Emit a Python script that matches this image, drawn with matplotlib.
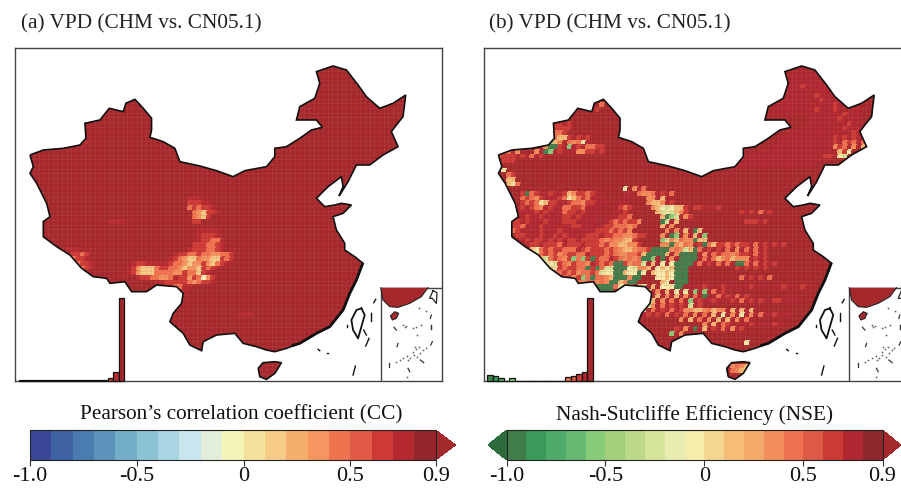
import numpy as np
import matplotlib
matplotlib.use("Agg")
import matplotlib.pyplot as plt
from matplotlib.colors import ListedColormap, BoundaryNorm
from matplotlib.cm import ScalarMappable
from matplotlib.patches import Polygon, Rectangle, PathPatch
from matplotlib.path import Path

W, H = 901, 488
plt.rcParams['font.family'] = ['Liberation Serif', 'DejaVu Serif']

bounds = np.round(np.arange(-1.0, 0.95, 0.1), 1)
cc_colors = ['#3a4796', '#3f62a3', '#4a7cb0', '#5b93ba', '#72aec8', '#8bc2d4', '#a9d6e2', '#c9e6ee', '#e2eed9', '#f5f5b8',
             '#f5e09c', '#f6cb85', '#f6ae6d', '#f5955f', '#f07350', '#e05a45', '#cd3a36', '#b52a30', '#93272d']
nse_colors = ['#3f7d4a', '#3a9a5a', '#4eab69', '#66b970', '#88cb78', '#a3d07c', '#bcd98a', '#d5e59a', '#e8ecb0', '#f6ecac',
              '#f5d68e', '#f5bd78', '#f4a86a', '#f28e5a', '#ee7150', '#dd5a46', '#cb3a35', '#ae2731', '#8f282e']
map_top_color = '#a5282d'
tick_vals = [-1.0, -0.5, 0, 0.5, 0.9]
tick_labels = ['-1.0', '-0.5', '0', '0.5', '0.9']

# histogram bars, one per colour bin
hist_cc = [1, 1, 1, 1, 1, 1, 1, 1, 1, 1, 1, 1, 1, 2, 2, 3, 8, 25, 247]
hist_nse = [17, 13, 7, 0, 8, 0, 0, 0, 0, 0, 0, 0, 0, 0, 12, 15, 20, 25, 247]

# China outline, measured on a 3x copy of panel (a)
china_x = [90, 130, 190, 240, 258, 255, 300, 328, 370, 378, 405, 430, 455, 455, 450, 490, 525, 540, 600, 650, 700, 735, 800,
           825, 825, 860, 900, 935, 968, 950, 925, 890, 900, 945, 960, 950, 1000, 1040, 1075, 1100, 1140, 1180, 1218, 1210,
           1190, 1175, 1195, 1150, 1110, 1070, 1045, 1018, 1030, 1025, 985, 950, 975, 1005, 1025, 1055, 1030, 1000, 1010,
           1035, 1035, 1065, 1090, 1070, 1050, 1030, 990, 950, 900, 860, 825, 800, 770, 730, 705, 650, 610, 605, 570, 550,
           510, 520, 545, 550, 530, 470, 440, 395, 375, 330, 320, 280, 245, 210, 170, 130, 130, 150, 140, 110, 90, 100]
china_y = [345, 330, 325, 315, 295, 250, 240, 205, 215, 190, 178, 205, 235, 270, 292, 305, 325, 365, 378, 392, 410, 392, 380,
           350, 325, 320, 295, 270, 262, 240, 240, 240, 200, 175, 130, 95, 78, 90, 135, 170, 205, 190, 165, 230,
           255, 275, 320, 345, 375, 375, 425, 468, 440, 410, 440, 475, 500, 495, 490, 495, 520, 530, 570,
           610, 630, 650, 670, 720, 760, 810, 860, 880, 910, 925, 935, 930, 920, 910, 880, 885, 905, 932, 915, 880,
           845, 820, 790, 760, 740, 735, 755, 755, 725, 730, 715, 710, 685, 645, 620, 590, 545, 530, 490, 430, 400, 380]
coast_x = [1088, 1070, 1050, 1030, 990, 950, 900, 880]
coast_y = [672, 720, 760, 810, 860, 880, 910, 916]
hainan_x = [775, 790, 825, 845, 825, 800, 780]
hainan_y = [985, 968, 965, 968, 1000, 1018, 1010]
taiwan_x = [1085, 1095, 1085, 1075, 1060, 1055, 1070, 1085]
taiwan_y = [805, 825, 860, 895, 870, 840, 810, 805]
dash_x0 = [1115, 1128, 1108, 1067, 955, 982, 1042, 1092]
dash_y0 = [820, 778, 895, 978, 928, 940, 855, 870]
dash_x1 = [1115, 1122, 1098, 1060, 960, 985, 1042, 1100]
dash_y1 = [842, 788, 918, 1005, 932, 940, 862, 885]

# south china sea inset
box_x = [1143, 1327]
box_y = [743, 1022]
inset_x = [1143, 1285, 1265, 1230, 1195, 1170, 1150]
inset_y = [743, 743, 770, 790, 802, 800, 780]
inset_hainan_x = [1172, 1185, 1197, 1190, 1178]
inset_hainan_y = [828, 815, 820, 835, 840]
inset_taiwan_x = [1300, 1312, 1310, 1298, 1290, 1300]
inset_taiwan_y = [752, 758, 790, 775, 775, 752]
inset_dash_x0 = [1183, 1295, 1295, 1195, 1298, 1168, 1262, 1225, 1295]
inset_dash_y0 = [862, 825, 855, 910, 905, 968, 960, 985, 855]
inset_dash_x1 = [1190, 1292, 1295, 1192, 1293, 1168, 1272, 1230, 1295]
inset_dash_y1 = [870, 835, 867, 920, 915, 980, 968, 995, 867]
isle_x = [1210, 1215, 1220, 1240, 1250, 1252, 1265, 1190, 1200, 1210, 1222, 1232, 1242, 1252, 1262, 1270, 1278, 1245, 1250,
          1258, 1240, 1225, 1222, 1258, 1280]
isle_y = [855, 862, 858, 865, 860, 885, 855, 965, 960, 955, 948, 955, 945, 950, 940, 930, 925, 920, 928, 922, 935, 960, 1012, 803, 812]

# grid levels, the characters in the rows below index this
levels = [-0.95, -0.55, -0.25, -0.05, 0.15, 0.3, 0.45, 0.6, 0.75, 0.85]

# (y, x, cells) on the 3x copy of each panel, 14 units per cell
cc_rows = [
    (300, 240, '88'), (314, 230, '888'), (480, 570, '888'), (494, 565, '77788'), (508, 575, '676778'), (522, 580, '654778'),
    (536, 580, '6547'), (550, 590, '77'), (575, 600, '88888'), (590, 600, '87778'), (604, 595, '877668'), (618, 590, '7776678'),
    (632, 575, '87776678'), (646, 525, '8776676655667'), (660, 520, '87654465544767'), (674, 400, '877888887665455754678'),
    (688, 395, '87544467766545547678'), (702, 395, '875444666655766478'), (716, 410, '87766556877576357'), (730, 470, '8877777656778'),
    (744, 500, '776688'), (630, 205, '888'), (644, 215, '7767'), (658, 225, '6778'), (672, 240, '6778'), (686, 250, '678'),
    (545, 335, '8888'), (830, 720, '888'), (760, 530, '888'),
]
nse_fill = [
    (92, 960, '88888'), (106, 945, '8888888'), (120, 945, '88888888'), (134, 950, '8887888888'), (148, 950, '8888888888'),
    (162, 950, '8888887888888'), (176, 900, '8888888888788888'), (190, 900, '8888888888888788888'), (204, 900, '8888888887888788888'),
    (218, 890, '88888888888888887888'), (232, 1020, '88888878888'), (246, 1000, '888888888788'), (260, 980, '88888888878888'),
    (274, 950, '8888888888888878'), (288, 930, '88888888888888878'), (302, 910, '888888888888887778'), (316, 900, '8888888888888778'),
    (330, 860, '88888888888888888778'), (344, 830, '88888888888888887788'), (358, 800, '8888888888888888888'),
    (372, 780, '888888888888888888'),
    (460, 150, '7867887887457767899999889'), (474, 140, '67657888765667688899998'), (488, 140, '76765477887665778889988'),
    (502, 130, '87876587886677688899987678'), (516, 130, '888878788867787888999887'), (530, 125, '8878878888778788889888776'),
    (544, 120, '7787888788877788889987676775'), (558, 115, '776888788888877888987766656'), (572, 120, '67888878887888888877767675'),
    (586, 125, '7788878878788887778776655677'), (600, 135, '88787787878778777765655447'), (614, 155, '8778777687778777675544557'),
    (628, 170, '43676776668767776765445668'), (642, 180, '436767567766877767655667'), (656, 195, '42676575677876687656567'),
    (670, 215, '3467657665876766775667'), (684, 230, '437677666766775765555'), (698, 250, '66767566765666545543'),
    (712, 275, '6757567665455455'), (726, 305, '765665654545'), (740, 340, '6788766555'),
    (600, 560, '655465564'), (614, 560, '5545466'), (628, 575, '6545446'),
    (740, 650, '888788878888878888887888788'), (780, 680, '8887888788878888778888'),
    (820, 680, '88878887888788887888'), (860, 720, '8887888878888788'),
]
nse_rows = [
    (198, 378, '6'), (212, 372, '7'), (254, 250, '77.7'), (268, 240, '7777'), (282, 245, '667'),
    (296, 246, '6447.7.7'), (306, 300, '5.3.'), (310, 250, '45.6.6'), (314, 220, '11'), (328, 216, '5007.1.7.6677'),
    (342, 190, '5.01.7...5577.7'), (342, 80, '676.5'), (356, 80, '6777.7.6.7'), (370, 90, '777'),
    (398, 90, '3'), (412, 100, '67'), (426, 100, '44'), (440, 110, '436'),
    (450, 455, '3'), (454, 480, '5.6'), (468, 490, '6556.7.6'), (460, 165, '0'), (474, 285, '34'), (488, 205, '3'),
    (482, 530, '55.4'), (496, 530, '5445.7'), (510, 540, '54323447'),
    (524, 550, '4232457'), (538, 560, '4012.57'), (552, 570, '02.4'),
    (566, 570, '4.5'), (580, 575, '5.5.4.04'), (594, 560, '5.01.5.4.1'),
    (608, 570, '12.4.5.0.4'), (622, 590, '0.4.5.00.4.7.7.7'),
    (636, 520, '70000.6.2.00.1.6.7.7.5.7'), (650, 510, '4.00.4.5.200.5.6.6.5.7'),
    (664, 300, '1.1.0'), (664, 510, '0.1.0.5.4.00.6.6.5.4.5'), (678, 225, '32'),
    (678, 510, '2.4.3.3.300.6.7.6.5.6.7'), (692, 530, '4.3.4.2.'), (692, 340, '0.0.7'),
    (720, 330, '1.0'), (748, 370, '00.0.3.5.43.4.33300'), (756, 385, '000'),
    (762, 530, '4.5.4.3.3.1.1.6.7'), (776, 530, '2.4.5.4.5.6.0'), (790, 530, '24.5.6.6.1.7'), (804, 530, '25.6.7.7.2.7'),
    (818, 510, '2.6.7.6.7.5.4.6.5'), (818, 640, '5.4.5.4.5.4.4.4'), (832, 500, '4.7.7.6.7.6.5.6.4.3.5.3.5.6'),
    (846, 620, '5.4.6.5.4.4.5.6'), (860, 690, '5.4.6'), (874, 610, '7.5.0.4.7.6.5.7'), (888, 600, '1.5'), (908, 820, '3'),
    (500, 670, '77.8.7'), (520, 810, '7.7.6.7'), (540, 815, '777.7'), (610, 680, '7.6.7.6.6.7.6.7.7.7'),
    (626, 680, '6.7.7.6.5.6.6.7'), (640, 740, '7.6.6.7.6.7'), (654, 740, '4.6.5.5.7.7'), (668, 760, '6.7.6.6.7.7'),
    (674, 785, '00'), (688, 790, '7.7.7.7'), (720, 800, '6.7.7.6'), (770, 730, '6.7.6.7'), (780, 780, '7.6.7.7'),
    (300, 1090, '7.7.7'), (314, 1090, '7.6.6.6'), (328, 1090, '5.6.5.4'), (342, 1095, '4.3'), (356, 1095, '32'),
    (978, 775, '66'), (986, 770, '56545'), (1000, 770, '6544'),
    # dark green blocks and the pale patch round them
    (640, 620, '000'), (654, 620, '000'), (668, 610, '000'), (682, 605, '000'), (696, 605, '000'), (710, 605, '000'),
    (724, 605, '000'), (738, 605, '00'), (678, 430, '00'), (692, 420, '000'), (706, 430, '00'), (720, 420, '000'),
    (734, 405, '00'), (748, 375, '000'), (700, 480, '00'), (714, 480, '00'), (728, 470, '00'), (640, 525, '0000'), (654, 515, '00'),
    (692, 395, '22'), (706, 390, '233'), (690, 545, '3434'), (704, 540, '43343'), (718, 550, '3343'), (732, 560, '43'), (746, 580, '33'),
    (692, 462, '32'), (706, 462, '33'),
]

# grid the maps are drawn on
x0, y0, cell = 60, 64, 14
grid_x = np.arange(x0, 1250, cell)
grid_y = np.arange(y0, 1040, cell)


def paint(rows, offset):
    grid = np.full((len(grid_y) - 1, len(grid_x) - 1), levels[9])
    for y, x, cells in rows:
        r = int((y - y0) / cell)
        c = int((x + offset - x0) / cell)
        for i, ch in enumerate(cells):
            if ch != '.':
                grid[r, c + i] = levels[int(ch)]
            elif grid[r, c + i] >= levels[9]:
                grid[r, c + i] = levels[8]
    return grid


def px_axes(x0, y0, x1, y1):
    return fig.add_axes([x0 / W, 1 - y1 / H, (x1 - x0) / W, (y1 - y0) / H])


def draw_panel(left, colors, rows, offset, bars, base):
    cmap = ListedColormap(colors)
    norm = BoundaryNorm(bounds, cmap.N)
    map_cmap = ListedColormap(colors[:-1] + [map_top_color])
    ax = px_axes(left, 48.3, left + 427, 380.7)
    ax.set_xlim(45, 1327)
    ax.set_ylim(1022, 25)
    ax.set_xticks([])
    ax.set_yticks([])
    for s in ax.spines.values():
        s.set_color('#444444')
        s.set_linewidth(1.0)
    mesh = ax.pcolormesh(grid_x, grid_y, paint(rows, offset), cmap=map_cmap, norm=norm, edgecolors='face', linewidth=0.1)

    china_path = Path(np.column_stack([china_x + china_x[:1], china_y + china_y[:1]]))
    hainan_path = Path(np.column_stack([hainan_x + hainan_x[:1], hainan_y + hainan_y[:1]]))
    land = PathPatch(Path.make_compound_path(china_path, hainan_path), fc='none', ec='#111111', lw=1.2, zorder=4)
    ax.add_patch(land)
    mesh.set_clip_path(land)
    # faint lighter lines between the grid cells
    vl = ax.vlines(grid_x, 25, 1022, color='#d06a60', lw=0.4, alpha=0.3, zorder=3)
    hl = ax.hlines(grid_y, 45, 1327, color='#d06a60', lw=0.4, alpha=0.3, zorder=3)
    vl.set_clip_path(land)
    hl.set_clip_path(land)

    ax.plot(coast_x, coast_y, color='#111111', lw=2.0, zorder=4)
    ax.plot(taiwan_x, taiwan_y, color='#111111', lw=1.3, zorder=4)
    for i in range(len(dash_x0)):
        ax.plot([dash_x0[i], dash_x1[i]], [dash_y0[i], dash_y1[i]], color='#111111', lw=1.0, zorder=4)

    ax.add_patch(Rectangle((box_x[0], box_y[0]), box_x[1] - box_x[0], box_y[1] - box_y[0], fc='white', ec='#444444', lw=1.0, zorder=5))
    ax.add_patch(Polygon(np.column_stack([inset_x, inset_y]), closed=True, fc=base, ec='none', zorder=6))
    ax.plot(inset_x[1:] + [inset_x[0]], inset_y[1:] + [inset_y[0]], color='#222222', lw=0.8, zorder=6)
    ax.add_patch(Polygon(np.column_stack([inset_hainan_x, inset_hainan_y]), closed=True, fc=base, ec='#222222', lw=0.8, zorder=6))
    ax.plot(inset_taiwan_x, inset_taiwan_y, color='#222222', lw=0.9, zorder=6)
    for i in range(len(inset_dash_x0)):
        ax.plot([inset_dash_x0[i], inset_dash_x1[i]], [inset_dash_y0[i], inset_dash_y1[i]], color='#333333', lw=0.9, zorder=6)
    ax.plot(isle_x, isle_y, ls='none', marker='.', ms=2.6, color='#666666', mew=0, zorder=6)

    hx = px_axes(left + 3.7, 297.4, left + 109.3, 380.7)
    hx.patch.set_alpha(0)
    hx.axis('off')
    centres = bounds[:-1] + 0.05
    hx.bar(centres, bars, width=0.1, color=map_cmap(norm(centres)), edgecolor='#111111', linewidth=0.9, clip_on=False)
    hx.set_xlim(-1.0, 0.9)
    hx.set_ylim(0, 250)
    return cmap, norm


def draw_bar(x0, x1, cmap, norm, extend, frac, label, label_x):
    # cax holds the arrows too, the colorbar shrinks its own body to fit them
    cax = px_axes(x0, 430, x1, 460)
    cb = fig.colorbar(ScalarMappable(norm=norm, cmap=cmap), cax=cax, orientation='horizontal', extend=extend,
                      extendfrac=frac, spacing='proportional', ticks=tick_vals, drawedges=False)
    cb.ax.set_xticklabels(tick_labels)
    cb.ax.tick_params(length=4, width=0.8, labelsize=16, pad=1, color='#333333', labelcolor='#111111')
    cb.ax.minorticks_off()
    cb.outline.set_visible(False)
    cax.add_patch(Rectangle((0, 0), 1, 1, transform=cax.transAxes, fc='none', ec='#222222', lw=0.8, zorder=5, clip_on=False))
    fig.text(label_x / W, 1 - 415 / H, label, fontsize=15.3, ha='center', va='center', color='#111111')
    return cb


fig = plt.figure(figsize=(W / 100, H / 100), dpi=100)

cc_cmap = ListedColormap(cc_colors)
cc_cmap.set_over('#a52a2e')
nse_cmap = ListedColormap(nse_colors)
nse_cmap.set_over('#a52a2e')
nse_cmap.set_under('#2d6b3c')

_, cc_norm = draw_panel(15, cc_colors, cc_rows, 0, hist_cc, map_top_color)
_, nse_norm = draw_panel(483.5, nse_colors, nse_fill + nse_rows, 19.5, hist_nse, map_top_color)

draw_bar(30, 455.7, cc_cmap, cc_norm, 'max', 20.0 / 405.7, 'Pearson\u2019s correlation coefficient (CC)', 241)
draw_bar(488, 901, nse_cmap, nse_norm, 'both', 18.5 / 376.0, 'Nash-Sutcliffe Efficiency (NSE)', 694)

fig.text(21 / W, 1 - 24 / H, '(a) VPD (CHM vs. CN05.1)', fontsize=15.3, ha='left', va='center', color='#222222')
fig.text(489 / W, 1 - 24 / H, '(b) VPD (CHM vs. CN05.1)', fontsize=15.3, ha='left', va='center', color='#222222')

fig.savefig('out.png', dpi=100)
